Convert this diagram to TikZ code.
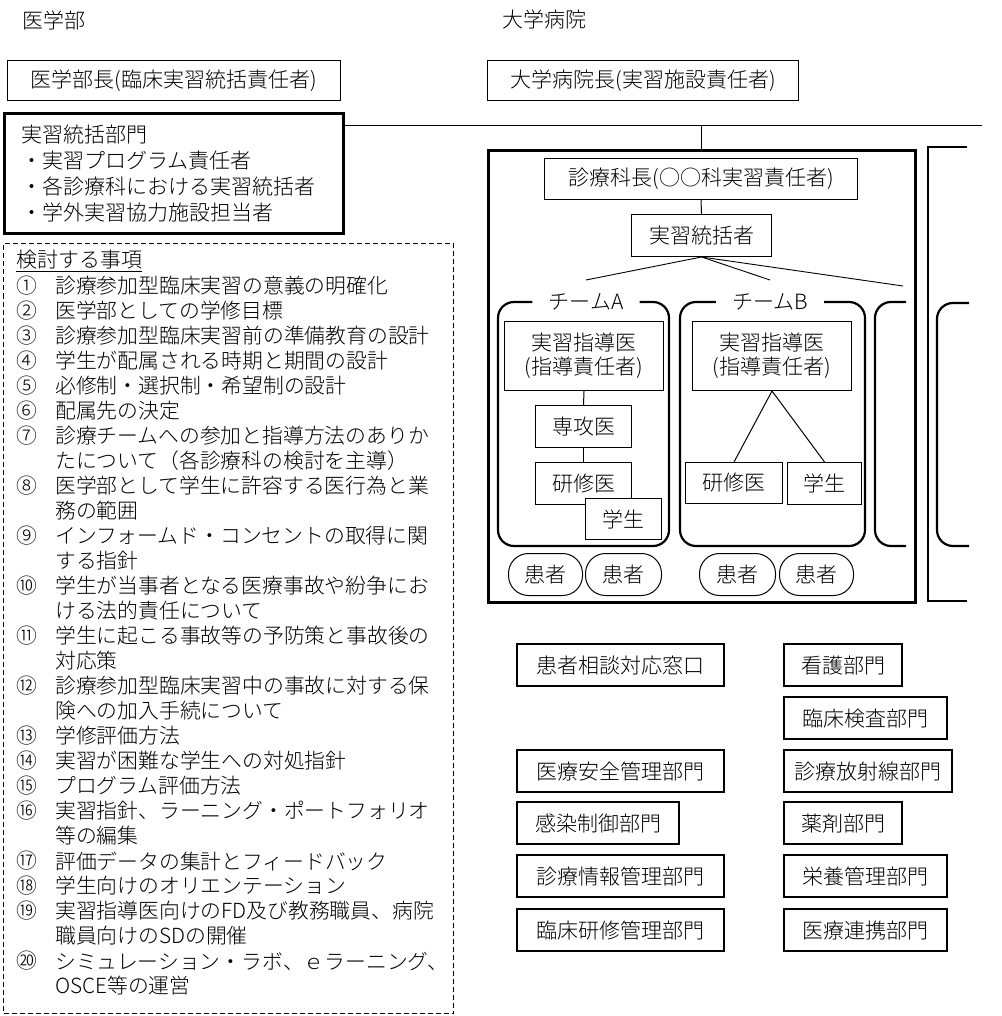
\documentclass[tikz,border=0pt]{standalone}
\usepackage{fontspec}
\setmainfont{Noto Sans CJK JP Light}
\newcommand{\txtsize}{\fontsize{21}{25.8}\selectfont}
\newcommand{\itemsize}{\fontsize{20.8}{25}\selectfont}

\begin{document}
\begin{tikzpicture}[x=1pt, y=-1pt,
    box/.style={draw, line width=1pt, inner sep=0pt, anchor=north west, font=\txtsize},
    dept/.style={box, line width=2.4pt, minimum height=42pt},
    heavy/.style={line width=2.8pt},
    team/.style={line width=2.2pt, rounded corners=16pt},
    teamlabel/.style={inner xsep=16pt, inner ysep=0pt, font=\txtsize},
    patient/.style={box, rounded corners=20pt, minimum height=42pt},
    label/.style={inner sep=0pt, anchor=west, font=\txtsize},
    item/.style={inner sep=0pt, anchor=west, font=\itemsize}]

    \useasboundingbox (0,0) rectangle (1001,1016);

    % headings
    \node [label] (fac) at (22,20) {医学部};
    \node [label] (hos) at (502,20) {大学病院};

    \node [box, minimum width=333pt, minimum height=40pt] (dean) at (7,60) {医学部長(臨床実習統括責任者)};
    \node [box, minimum width=311pt, minimum height=40pt] (director) at (487,60) {大学病院長(実習施設責任者)};

    % faculty side
    \node [box, heavy, minimum width=339pt, minimum height=120pt, inner xsep=17pt, text width=305pt, align=left]
        (sect) at (3,112) {実習統括部門\\・実習プログラム責任者\\・各診療科における実習統括者\\・学外実習協力施設担当者};

    \node [box, dash pattern=on 5pt off 3pt, minimum width=450pt, minimum height=770pt] (topics) at (3,243) {};
    \node [label] (topichead) at (16,261) {\underline{検討する事項}};
    \foreach \n/\t [count=\k from 0] in {
        ①/診療参加型臨床実習の意義の明確化,
        ②/医学部としての学修目標,
        ③/診療参加型臨床実習前の準備教育の設計,
        ④/学生が配属される時期と期間の設計,
        ⑤/必修制・選択制・希望制の設計,
        ⑥/配属先の決定,
        ⑦/診療チームへの参加と指導方法のありか,
        /たについて（各診療科の検討を主導）,
        ⑧/医学部として学生に許容する医行為と業,
        /務の範囲,
        ⑨/インフォームド・コンセントの取得に関,
        /する指針,
        ⑩/学生が当事者となる医療事故や紛争にお,
        /ける法的責任について,
        ⑪/学生に起こる事故等の予防策と事故後の,
        /対応策,
        ⑫/診療参加型臨床実習中の事故に対する保,
        /険への加入手続について,
        ⑬/学修評価方法,
        ⑭/実習が困難な学生への対処指針,
        ⑮/プログラム評価方法,
        ⑯/実習指針、ラーニング・ポートフォリオ,
        /等の編集,
        ⑰/評価データの集計とフィードバック,
        ⑱/学生向けのオリエンテーション,
        ⑲/実習指導医向けのFD及び教務職員、病院,
        /職員向けのSDの開催,
        ⑳/シミュレーション・ラボ、ｅラーニング、,
        /OSCE等の運営}
    {
        \node [item] (num\k) at (16,286+25*\k) {\n};
        \node [item] (topic\k) at (55,286+25*\k) {\t};
    }

    % hospital side
    \node [box, heavy, minimum width=427pt, minimum height=452pt] (hosp) at (487,149) {};
    \draw [heavy] (967,147) -- (928,147) -- (928,601) -- (967,601);

    \coordinate (railend) at (982,126);
    \draw [line width=1pt] (sect.east |- railend) -- (railend);
    \draw [line width=1pt] (hosp.north) -- (hosp.north |- railend);

    \node [box, minimum width=313pt, minimum height=41pt] (chief) at (544,158) {診療科長(○○科実習責任者)};
    \node [box, minimum width=140pt, minimum height=42pt] (coord) at (631,214) {実習統括者};
    \draw [line width=1pt] (chief.south) -- (coord.north);

    \coordinate (toA) at (586,280);
    \coordinate (toB) at (770,280);
    \coordinate (toC) at (903,286);
    \foreach \c in {toA,toB,toC}
        \draw [line width=0.9pt] (coord.south) -- (\c);

    % teams
    \node [teamlabel] (teamA) at (586,302) {チームA};
    \draw [team] (teamA.west) -| (498,546) -| (669,302) -- (teamA.east);
    \node [teamlabel] (teamB) at (770,302) {チームB};
    \draw [team] (teamB.west) -| (680,546) -| (865,302) -- (teamB.east);
    \draw [team] (906,302) -- (875,302) -- (875,546) -- (906,546);
    \draw [team] (969,303) -- (937,303) -- (937,546) -- (969,546);

    \node [box, minimum width=159pt, minimum height=69pt, align=center, font=\fontsize{21}{24}\selectfont]
        (leadA) at (504,321) {実習指導医\\(指導責任者)};
    \node [box, minimum width=96pt, minimum height=42pt] (senA) at (535,405) {専攻医};
    \node [box, minimum width=96pt, minimum height=42pt] (resA) at (535,462) {研修医};
    \draw [line width=1pt] (leadA.south) -- (senA.north);
    \draw [line width=1pt] (senA.south) -- (resA.north);
    \node [box, fill=white, minimum width=76pt, minimum height=41pt] (stuA) at (585,498) {学生};

    \node [box, minimum width=159pt, minimum height=69pt, align=center, font=\fontsize{21}{24}\selectfont]
        (leadB) at (692,321) {実習指導医\\(指導責任者)};
    \node [box, minimum width=97pt, minimum height=41pt] (resB) at (685,462) {研修医};
    \node [box, minimum width=74pt, minimum height=42pt] (stuB) at (787,462) {学生};
    \draw [line width=1pt] (leadB.south) -- (resB.north);
    \draw [line width=1pt] (leadB.south) -- (stuB.north);

    % patients
    \node [patient, minimum width=74pt] (patA1) at (508,553) {患者};
    \node [patient, minimum width=76pt] (patA2) at (585,553) {患者};
    \node [patient, minimum width=76pt] (patB1) at (699,553) {患者};
    \node [patient, minimum width=74pt] (patB2) at (779,553) {患者};

    % departments
    \node [dept, minimum width=207pt] (consult) at (516,643) {患者相談対応窓口};
    \node [dept, minimum width=207pt] (safety) at (516,749) {医療安全管理部門};
    \node [dept, minimum width=162pt] (infect) at (516,801) {感染制御部門};
    \node [dept, minimum width=207pt] (records) at (516,854) {診療情報管理部門};
    \node [dept, minimum width=207pt] (training) at (516,908) {臨床研修管理部門};

    \node [dept, minimum width=118pt] (nursing) at (783,643) {看護部門};
    \node [dept, minimum width=163pt] (lab) at (783,696) {臨床検査部門};
    \node [dept, minimum width=168pt] (radiology) at (783,749) {診療放射線部門};
    \node [dept, minimum width=118pt] (pharmacy) at (783,801) {薬剤部門};
    \node [dept, minimum width=163pt] (nutrition) at (783,854) {栄養管理部門};
    \node [dept, minimum width=163pt] (liaison) at (783,908) {医療連携部門};

\end{tikzpicture}
\end{document}
